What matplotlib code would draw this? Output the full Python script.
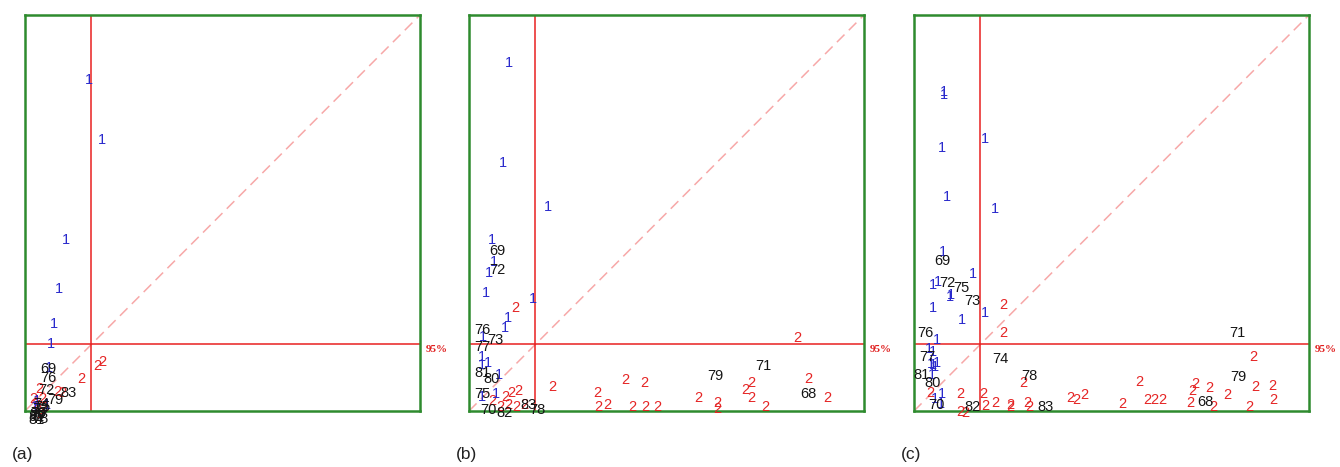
import matplotlib
matplotlib.use("Agg")
import matplotlib.pyplot as plt

# ---------------- data (0-100 scale in each panel) ----------------
threshold_x = 16.6
threshold_y = 16.9

# Panel (a)
a_ones_x = [16.2, 19.5, 10.4, 8.6, 7.3, 6.6, 6.0, 2.5, 3.0, 5.5]
a_ones_y = [83.6, 68.4, 43.2, 30.8, 22.0, 16.9, 10.9, 1.0, 2.5, 1.5]
a_twos_x = [18.2, 19.5, 14.2, 8.1, 3.5, 4.5, 2.5, 3.0, 5.0, 2.0, 3.8, 9.5]
a_twos_y = [11.4, 12.4, 8.1, 4.8, 5.5, 3.0, 1.5, 0.2, 1.0, 3.0, -0.8, 4.6]
a_lab = ["69", "76", "72", "83", "79", "70", "82", "78", "75", "80", "81", "73", "77", "74"]
a_lab_x = [5.8, 5.8, 5.3, 10.9, 7.6, 3.5, 3.0, 4.0, 4.5, 3.2, 3.0, 3.8, 3.3, 4.2]
a_lab_y = [10.6, 8.3, 5.3, 4.5, 2.8, -0.5, -1.5, -2.0, 1.0, -0.8, -2.2, 0.5, -1.2, 1.8]

# Panel (b)
b_ones_x = [10.1, 8.6, 20.0, 5.8, 6.3, 5.1, 4.3, 16.2, 9.9, 9.1, 3.5, 3.3, 4.8, 3.3,
            7.6, 3.3, 6.8]
b_ones_y = [87.9, 62.6, 51.5, 43.2, 37.6, 34.8, 29.8, 28.3, 23.5, 21.0, 18.7, 13.6, 12.1,
            11.6, 9.1, 3.5, 4.3]
b_twos_x = [11.6, 21.0, 12.4, 10.8, 9.1, 6.0, 8.0, 10.0, 12.0, 14.0,
            83.0, 39.5, 44.3, 85.8, 90.6, 32.4, 32.7, 34.9, 41.3, 44.6, 47.6,
            58.0, 62.8, 62.8, 71.4, 69.9, 71.4, 74.9]
b_twos_y = [26.0, 6.1, 5.1, 4.5, 3.5, 2.5, 1.0, 1.5, 1.0, 1.5,
            18.4, 7.8, 7.1, 8.1, 3.3, 4.5, 1.0, 1.5, 1.0, 1.0, 1.0,
            3.3, 2.0, 0.5, 7.1, 5.3, 3.3, 1.0]
b_lab = ["69", "72", "76", "73", "77", "81", "80", "75", "70", "82", "83", "78",
         "79", "71", "68"]
b_lab_x = [7.3, 7.3, 3.3, 6.8, 3.5, 3.3, 5.8, 3.5, 4.8, 9.1, 15.0, 17.3,
           62.5, 74.4, 85.8]
b_lab_y = [40.4, 35.6, 20.5, 17.9, 16.2, 9.6, 8.1, 4.3, 0.3, -0.5, 1.5, 0.3,
           8.8, 11.4, 4.3]

# Panel (c)
c_ones_x = [7.6, 7.6, 7.1, 18.0, 8.4, 20.5, 7.3, 4.8, 6.1, 14.9, 9.1, 9.4, 4.8, 12.2,
            18.0, 5.8, 3.8, 4.8, 5.8, 4.3, 5.3, 4.6, 7.1, 6.8, 4.8, 5.3]
c_ones_y = [79.8, 80.5, 66.4, 68.7, 54.0, 51.0, 40.2, 31.8, 32.6, 34.6, 28.8, 29.4, 26.0,
            23.0, 24.7, 18.0, 15.6, 15.0, 12.1, 11.8, 11.0, 9.1, 4.3, 1.8, 11.6, 3.0]
c_twos_x = [22.5, 22.5, 4.1, 11.6, 17.5, 11.6, 13.0, 18.0, 20.5, 24.3, 28.6,
            85.8, 27.8, 86.3, 90.6, 79.2, 90.9, 84.8, 57.0, 71.1, 70.4, 74.7,
            69.9, 75.7, 59.0, 60.8, 62.8, 52.7, 39.5, 41.0, 43.0, 24.3, 29.1]
c_twos_y = [26.8, 19.7, 4.5, 4.3, 4.3, -0.3, -0.5, 1.3, 2.0, 1.5, 2.0,
            13.6, 7.1, 6.1, 6.3, 4.0, 2.8, 1.0, 7.3, 6.8, 5.1, 5.8,
            2.0, 1.0, 2.8, 2.8, 2.8, 1.8, 3.3, 2.8, 4.0, 1.0, 1.0]
c_lab = ["69", "72", "75", "73", "76", "77", "74", "81", "80", "70", "82",
         "71", "78", "79", "68", "83"]
c_lab_x = [7.1, 8.4, 11.9, 14.7, 2.8, 3.3, 21.8, 2.0, 4.8, 5.6, 14.7,
           81.8, 29.1, 82.0, 73.7, 33.4]
c_lab_y = [37.9, 32.3, 31.1, 27.8, 19.7, 13.6, 13.1, 9.1, 7.1, 1.5, 1.0,
           19.7, 8.8, 8.6, 2.3, 1.0]

panels = [
    ("(a)", a_ones_x, a_ones_y, a_twos_x, a_twos_y, a_lab, a_lab_x, a_lab_y),
    ("(b)", b_ones_x, b_ones_y, b_twos_x, b_twos_y, b_lab, b_lab_x, b_lab_y),
    ("(c)", c_ones_x, c_ones_y, c_twos_x, c_twos_y, c_lab, c_lab_x, c_lab_y),
]

W, H = 1340, 467
fig = plt.figure(figsize=(W / 100, H / 100), dpi=100)
lefts = [25, 469, 914]
FS = 10.5
for left, (name, ox, oy, tx, ty, lab, lx, ly) in zip(lefts, panels):
    ax = fig.add_axes([left / W, (H - 411) / H, 395 / W, 396 / H])
    ax.set_xlim(0, 100)
    ax.set_ylim(0, 100)
    ax.set_xticks([])
    ax.set_yticks([])
    for s in ax.spines.values():
        s.set_color("#2e8b2e")
        s.set_linewidth(1.8)
    ax.plot([0, 100], [0, 100], ls=(0, (7, 4)), color="#f7a8a8", lw=1.1, zorder=1)
    ax.axvline(threshold_x, color="#e82020", lw=1.1, zorder=1)
    ax.axhline(threshold_y, color="#e82020", lw=1.1, zorder=1)
    for x, y in zip(tx, ty):
        ax.text(x, y, "2", color="#e52525", fontsize=FS, ha="center", va="center",
                family="Liberation Sans", zorder=3)
    for x, y in zip(ox, oy):
        ax.text(x, y, "1", color="#2a2acc", fontsize=FS, ha="center", va="center",
                family="Liberation Sans", zorder=3)
    for t, x, y in zip(lab, lx, ly):
        ax.text(x, y, t, color="#151515", fontsize=FS, ha="center", va="center",
                family="Liberation Sans", zorder=4)
    ax.text(101.5, threshold_y - 1.3, "95%", color="#e02020", fontsize=8,
            fontweight="bold", family="Liberation Serif", ha="left", va="center")
    fig.text((left - 13) / W, (H - 455) / H, name, fontsize=12.5,
             family="Liberation Sans", ha="left", va="center", color="#222222")

fig.savefig("out.png", dpi=100)
